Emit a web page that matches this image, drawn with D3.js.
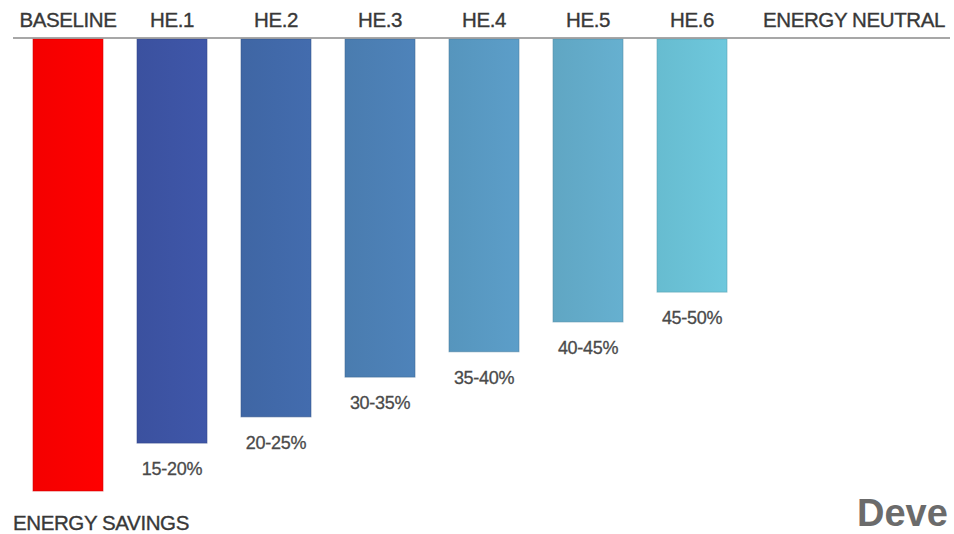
<!DOCTYPE html>
<html lang="en">
<head>
<meta charset="UTF-8">
<title>Energy Savings</title>
<script src="https://d3js.org/d3.v7.min.js"></script>
<style>
    body { margin: 0; background: #fff; }
    svg { display: block; font-family: "Liberation Sans", Arial, Helvetica, sans-serif; }
    .cat { font-size: 20.5px; fill: #383838; stroke: #383838; stroke-width: 0.35px; letter-spacing: -0.4px; }
    .pct { font-size: 18px; fill: #4a4a4a; stroke: #4a4a4a; stroke-width: 0.3px; letter-spacing: -0.3px; }
</style>
</head>
<body>
<svg id="chart"></svg>
<script>
    // categories along the top, remaining energy use (baseline = 100), saving labels
    const categories = ["BASELINE", "HE.1", "HE.2", "HE.3", "HE.4", "HE.5", "HE.6"];
    const energyUse = [100, 89.4, 83.6, 74.8, 69.2, 62.6, 56.0];
    const savingLabels = ["", "15-20%", "20-25%", "30-35%", "35-40%", "40-45%", "45-50%"];
    const barColors = ["#ff0000", "#3e55a6", "#426aab", "#4d81b7", "#5a9bc5", "#64adcc", "#6cc4d9"];

    const width = 954, height = 534;

    const svg = d3.select("#chart")
        .attr("width", width)
        .attr("height", height);

    const x = d3.scaleBand()
        .domain(categories)
        .range([33, 727])
        .paddingInner(0.327)
        .paddingOuter(0);

    const y = d3.scaleLinear()
        .domain([0, 100])
        .range([39, 491]);

    // subtle left-to-right shading like the original bars
    const defs = svg.append("defs");
    categories.forEach((c, i) => {
        const g = defs.append("linearGradient")
            .attr("id", "grad" + i)
            .attr("x1", "0%").attr("x2", "100%");
        g.append("stop").attr("offset", "0%").attr("stop-color", d3.color(barColors[i]).darker(0.12));
        g.append("stop").attr("offset", "100%").attr("stop-color", d3.color(barColors[i]).brighter(0.05));
    });

    const data = categories.map((c, i) => ({ cat: c, value: energyUse[i], label: savingLabels[i], i: i }));

    // bars hanging from the energy-neutral line
    svg.append("g")
        .selectAll("rect")
        .data(data)
        .join("rect")
        .attr("x", d => x(d.cat))
        .attr("y", y(0))
        .attr("width", x.bandwidth())
        .attr("height", d => y(d.value) - y(0))
        .attr("fill", d => `url(#grad${d.i})`)
        .attr("stroke", d => d3.color(barColors[d.i]).darker(0.6))
        .attr("stroke-opacity", 0.55)
        .attr("stroke-width", 1);

    // top reference line
    svg.append("line")
        .attr("x1", 13).attr("x2", 950)
        .attr("y1", y(0) - 1).attr("y2", y(0) - 1)
        .attr("stroke", "#8a8a8a")
        .attr("stroke-width", 1.5);

    // category labels
    svg.append("g")
        .selectAll("text")
        .data(data)
        .join("text")
        .attr("class", "cat")
        .attr("x", d => x(d.cat) + x.bandwidth() / 2)
        .attr("y", 27)
        .attr("text-anchor", "middle")
        .text(d => d.cat);

    svg.append("text")
        .attr("class", "cat")
        .attr("x", 945)
        .attr("y", 27)
        .attr("text-anchor", "end")
        .text("ENERGY NEUTRAL");

    // saving labels under bars
    svg.append("g")
        .selectAll("text")
        .data(data.filter(d => d.label))
        .join("text")
        .attr("class", "pct")
        .attr("x", d => x(d.cat) + x.bandwidth() / 2)
        .attr("y", d => y(d.value) + 32)
        .attr("text-anchor", "middle")
        .text(d => d.label);

    svg.append("text")
        .attr("class", "cat")
        .attr("x", 13)
        .attr("y", 530)
        .text("ENERGY SAVINGS");

    // caption at the lower right corner
    svg.append("text")
        .attr("x", 857)
        .attr("y", 526)
        .attr("font-size", 38)
        .attr("font-weight", "bold")
        .attr("fill", "#6b6b6b")
        .text("Deve");
</script>
</body>
</html>
